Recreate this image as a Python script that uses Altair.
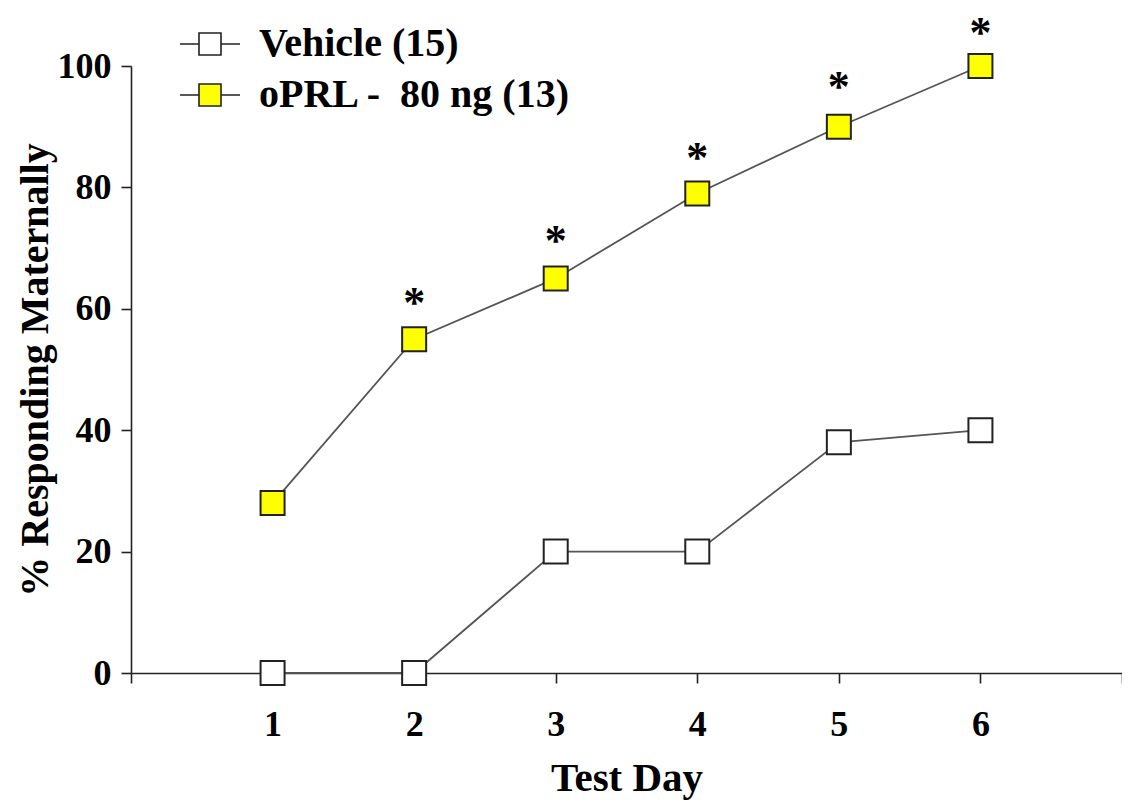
import altair as alt
import pandas as pd

days = [1, 2, 3, 4, 5, 6]
vehicle = [0, 0, 20, 20, 38, 40]
oprl = [28, 55, 65, 79, 90, 100]
significant = ["", "*", "*", "*", "*", "*"]
star_level = [None, 61.4, 71.7, 85.3, 97.0, 106.0]
series_names = ["Vehicle (15)", "oPRL -\u00a0 80 ng (13)"]
x_ticks = [0, 1, 2, 3, 4, 5, 6, 7]
y_ticks = [0, 20, 40, 60, 80, 100]

rows = []
for d, v in zip(days, vehicle):
    rows.append({"day": d, "pct": v, "group": series_names[0]})
for d, v in zip(days, oprl):
    rows.append({"day": d, "pct": v, "group": series_names[1]})
df = pd.DataFrame(rows)

star_df = pd.DataFrame(
    [{"day": d, "level": lv, "sig": s}
     for d, lv, s in zip(days, star_level, significant) if s]
)

FONT = "Liberation Serif"
INK = "#222222"

x_scale = alt.Scale(domain=[0, 7], nice=False, zero=False)
y_scale = alt.Scale(domain=[0, 100], nice=False)

x_axis = alt.Axis(
    values=x_ticks,
    title="Test Day",
    format="d",
    labelExpr="datum.value >= 1 && datum.value <= 6 ? datum.label : ''",
    labelPadding=24,
    titlePadding=16,
    titleFontSize=41,
)
y_axis = alt.Axis(
    values=y_ticks,
    title="% Responding Maternally",
    format="d",
    labelPadding=10,
    titlePadding=2,
    titleFontSize=40,
)

x = alt.X("day:Q", scale=x_scale, axis=x_axis)
y = alt.Y("pct:Q", scale=y_scale, axis=y_axis)

base = alt.Chart(df)

lines = base.mark_line(color="#555555", strokeWidth=1.8).encode(
    x=x, y=y, detail="group:N"
)

legend_path = "M-1,0H-0.367M0.367,0H1M-0.367,-0.367H0.367V0.367H-0.367Z"

points = base.mark_point(
    shape="square", size=576, filled=True, stroke=INK, strokeWidth=2, opacity=1
).encode(
    x=x,
    y=y,
    fill=alt.Fill(
        "group:N",
        scale=alt.Scale(domain=series_names, range=["#ffffff", "#ffff00"]),
        legend=alt.Legend(
            title=None,
            orient="none",
            legendX=48,
            legendY=-53,
            symbolType=legend_path,
            symbolSize=3600,
            symbolStrokeColor=INK,
            symbolStrokeWidth=1.6,
            labelFont=FONT,
            labelFontSize=40,
            labelFontWeight="bold",
            labelColor="black",
            labelOffset=18,
            rowPadding=-6,
            padding=0,
            labelLimit=700,
        ),
    ),
)

stars = alt.Chart(star_df).mark_text(
    dy=4, font=FONT, fontSize=44, fontWeight="bold", color="black", baseline="middle"
).encode(
    x=alt.X("day:Q", scale=x_scale, axis=x_axis),
    y=alt.Y("level:Q", scale=y_scale, axis=y_axis),
    text="sig:N",
)

chart = (
    alt.layer(lines, points, stars)
    .properties(
        width=991,
        height=607,
        autosize=alt.AutoSizeParams(type="none"),
        padding={"left": 123, "top": 58, "right": 0, "bottom": 127},
    )
    .configure_view(stroke=None)
    .configure_axis(
        grid=False,
        domainColor=INK,
        domainWidth=1.6,
        tickColor=INK,
        tickWidth=1.6,
        tickSize=10,
        labelFont=FONT,
        labelFontSize=36,
        labelFontWeight="bold",
        labelColor="black",
        titleFont=FONT,
        titleFontWeight="bold",
        titleColor="black",
    )
)

chart.save("out.html", embed_options={"renderer": "svg", "actions": False})
